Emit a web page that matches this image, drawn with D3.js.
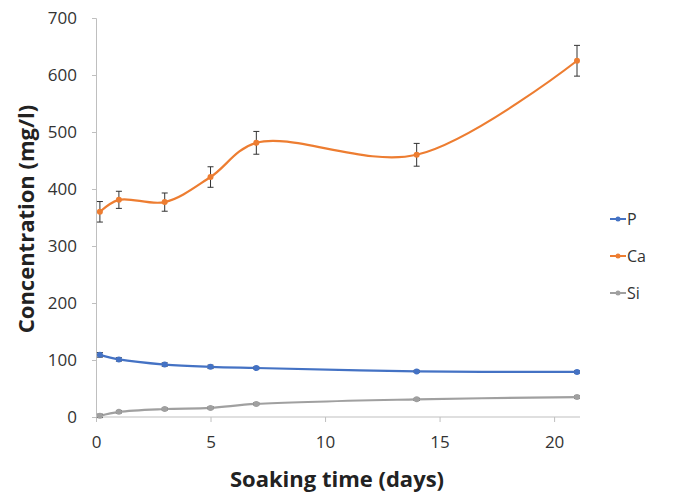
<!DOCTYPE html>
<html>
<head>
<meta charset="utf-8">
<script src="https://cdn.jsdelivr.net/npm/d3@7"></script>
<style>
  body { margin: 0; background: #fff; }
  svg { display: block; }
  .tick text { font-family: "Open Sans", sans-serif; font-size: 17px; fill: #333; }
</style>
</head>
<body>
<svg id="chart" width="686" height="497"></svg>
<script>
// soaking time (days)
var days = [0.17, 1, 3, 5, 7, 14, 21];

// concentrations (mg/l)
var P = [109, 101, 92, 88, 86, 80, 79];
var Ca = [360, 381, 377, 421, 481, 460, 625];
var Si = [2, 9, 14, 16, 23, 31, 35];

// error bar half-widths
var P_err = [4, 3, 3, 3, 2, 2, 2];
var Ca_err = [18, 15, 16, 18, 20, 20, 27];
var Si_err = [3, 2, 2, 2, 2, 2, 2];

var yTicks = [0, 100, 200, 300, 400, 500, 600, 700];
var xTicks = [0, 5, 10, 15, 20];

var seriesNames = ["P", "Ca", "Si"];
var colors = { P: "#4472c4", Ca: "#ed7d31", Si: "#a0a0a0" };

var svg = d3.select("#chart");
var margin = { top: 18, left: 96 };
var width = 481, height = 399;

var x = d3.scaleLinear().domain([0, 21]).range([0, width]);
var y = d3.scaleLinear().domain([0, 700]).range([height, 0]);

var g = svg.append("g")
  .attr("transform", "translate(" + margin.left + "," + margin.top + ")");

// axes
var gY = g.append("g")
  .call(d3.axisLeft(y).tickValues(yTicks).tickSize(4).tickPadding(15));
var gX = g.append("g")
  .attr("transform", "translate(0," + height + ")")
  .call(d3.axisBottom(x).tickValues(xTicks).tickSize(5).tickPadding(14));
gX.select(".domain").attr("d", "M0,0H" + (width + 3));
g.selectAll(".domain, .tick line").attr("stroke", "#bfbfbf");

// axis titles
svg.append("text")
  .attr("x", 337).attr("y", 487)
  .attr("text-anchor", "middle")
  .style("font-family", "'Open Sans', sans-serif")
  .style("font-weight", "bold")
  .style("font-size", "22px")
  .attr("fill", "#222")
  .text("Soaking time (days)");

svg.append("text")
  .attr("transform", "translate(34,219) rotate(-90)")
  .attr("text-anchor", "middle")
  .style("font-family", "'Open Sans', sans-serif")
  .style("font-weight", "bold")
  .style("font-size", "22px")
  .attr("fill", "#222")
  .text("Concentration (mg/l)");

var data = {
  P: days.map(function (d, i) { return { x: d, y: P[i], e: P_err[i] }; }),
  Ca: days.map(function (d, i) { return { x: d, y: Ca[i], e: Ca_err[i] }; }),
  Si: days.map(function (d, i) { return { x: d, y: Si[i], e: Si_err[i] }; })
};

var line = d3.line()
  .x(function (d) { return x(d.x); })
  .y(function (d) { return y(d.y); })
  .curve(d3.curveCatmullRom.alpha(0.5));

seriesNames.forEach(function (name) {
  var s = g.append("g");
  s.append("path")
    .datum(data[name])
    .attr("fill", "none")
    .attr("stroke", colors[name])
    .attr("stroke-width", 2.2)
    .attr("d", line);

  // error bars
  var eb = s.selectAll(".eb").data(data[name]).enter().append("g");
  eb.append("line")
    .attr("x1", function (d) { return x(d.x); })
    .attr("x2", function (d) { return x(d.x); })
    .attr("y1", function (d) { return y(d.y - d.e); })
    .attr("y2", function (d) { return y(d.y + d.e); })
    .attr("stroke", "#333").attr("stroke-width", 1);
  [-1, 1].forEach(function (sg) {
    eb.append("line")
      .attr("x1", function (d) { return x(d.x) - 3; })
      .attr("x2", function (d) { return x(d.x) + 3; })
      .attr("y1", function (d) { return y(d.y + sg * d.e); })
      .attr("y2", function (d) { return y(d.y + sg * d.e); })
      .attr("stroke", "#333").attr("stroke-width", 1);
  });

  s.selectAll("circle").data(data[name]).enter().append("circle")
    .attr("cx", function (d) { return x(d.x); })
    .attr("cy", function (d) { return y(d.y); })
    .attr("r", 3)
    .attr("fill", colors[name]);
});

// legend
var legend = svg.append("g");
seriesNames.forEach(function (name, i) {
  var ly = 219 + i * 37;
  legend.append("line")
    .attr("x1", 610).attr("x2", 626)
    .attr("y1", ly).attr("y2", ly)
    .attr("stroke", colors[name]).attr("stroke-width", 2);
  legend.append("circle")
    .attr("cx", 618).attr("cy", ly).attr("r", 2.5)
    .attr("fill", colors[name]);
  legend.append("text")
    .attr("x", 627).attr("y", ly + 6)
    .style("font-family", "'Open Sans', sans-serif")
    .style("font-size", "16px")
    .attr("fill", "#333")
    .text(name);
});
</script>
</body>
</html>
